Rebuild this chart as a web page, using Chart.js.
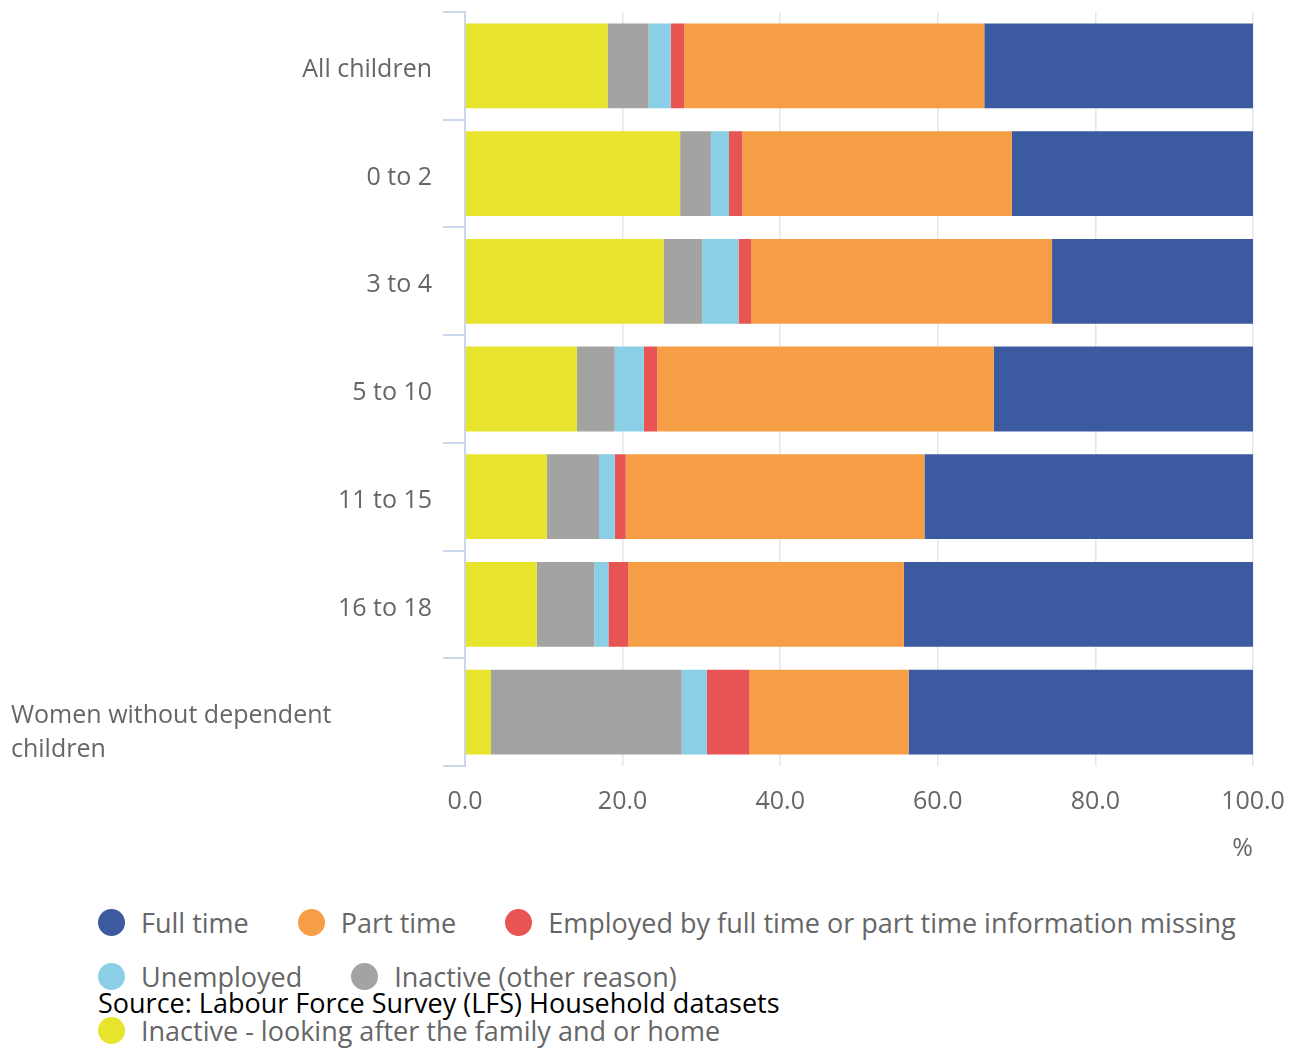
<!DOCTYPE html>
<html><head><meta charset="utf-8">
<script src="https://cdn.jsdelivr.net/npm/chart.js@4/dist/chart.umd.min.js"></script>
<style>
html,body{margin:0;padding:0;background:#fff;width:1294px;height:1048px;overflow:hidden;font-family:"Open Sans",sans-serif;}
#wrap{position:absolute;left:0;top:0;width:1294px;height:880px;}
#legend{position:absolute;left:98px;top:895px;width:1160px;display:flex;flex-wrap:wrap;column-gap:49px;}
.item{display:flex;align-items:center;height:54px;font-size:27px;color:#666;white-space:nowrap;}
.dot{width:27px;height:27px;border-radius:50%;margin-right:16px;flex:none;}
#source{position:absolute;left:98px;top:986px;font-size:27px;color:#000;line-height:34px;white-space:nowrap;}
</style></head>
<body>
<div id="wrap"><canvas id="c" width="1294" height="880"></canvas></div>
<div id="legend"></div>
<div id="source">Source: Labour Force Survey (LFS) Household datasets</div>
<script>
// Categories (top to bottom)
const categories = ['All children', '0 to 2', '3 to 4', '5 to 10', '11 to 15', '16 to 18', ['Women without dependent', 'children']];

// Series values (%), stacked left to right
const inactiveFamily = [18.1, 27.3, 25.2, 14.2, 10.4, 9.1, 3.3];
const inactiveOther  = [5.2, 3.9, 4.9, 4.8, 6.6, 7.3, 24.2];
const unemployed     = [2.8, 2.3, 4.6, 3.7, 2.0, 1.8, 3.2];
const employedMissing= [1.7, 1.7, 1.6, 1.7, 1.4, 2.5, 5.4];
const partTime       = [38.1, 34.2, 38.2, 42.7, 37.9, 35.0, 20.2];
const fullTime       = [34.1, 30.6, 25.5, 32.9, 41.7, 44.3, 43.7];

const seriesNames = ['Inactive - looking after the family and or home', 'Inactive (other reason)', 'Unemployed', 'Employed by full time or part time information missing', 'Part time', 'Full time'];
const seriesColors = ['#e8e32c', '#a3a3a1', '#8acfe5', '#e85454', '#f59e45', '#3c5aa0'];
const seriesValues = [inactiveFamily, inactiveOther, unemployed, employedMissing, partTime, fullTime];

const xTicks = [0, 20, 40, 60, 80, 100];
const xTitle = '%';

const yLabelPlugin = {
  id: 'yLabels',
  afterDraw(chart) {
    const ctx = chart.ctx, ys = chart.scales.y;
    ctx.save();
    ctx.font = '25px "Open Sans"';
    ctx.fillStyle = '#666666';
    ctx.textBaseline = 'middle';
    categories.forEach((lab, i) => {
      const py = ys.getPixelForValue(i);
      if (Array.isArray(lab)) {
        ctx.textAlign = 'left';
        const lh = 34;
        lab.forEach((ln, k) => {
          ctx.fillText(ln, 11, py + 4 + k * lh);
        });
      } else {
        ctx.textAlign = 'right';
        ctx.fillText(lab, ys.left - 11, py + 4);
      }
    });
    ctx.restore();
  }
};

const chart = new Chart(document.getElementById('c'), {
  type: 'bar',
  data: {
    labels: categories,
    datasets: seriesValues.map((v, i) => ({
      label: seriesNames[i],
      data: v,
      backgroundColor: seriesColors[i],
      borderWidth: 0,
      categoryPercentage: 1,
      barPercentage: 0.787
    }))
  },
  options: {
    indexAxis: 'y',
    responsive: false,
    animation: false,
    devicePixelRatio: 1,
    layout: { padding: { left: 443, right: 41, top: 12, bottom: 16 } },
    plugins: { legend: { display: false }, tooltip: { enabled: false } },
    scales: {
      x: {
        stacked: true,
        min: 0, max: 100,
        afterBuildTicks: (s) => { s.ticks = xTicks.map(v => ({ value: v })); },
        afterFit: (s) => { s.paddingRight = 0; s.paddingLeft = 0; },
        ticks: { callback: (v) => Number(v).toFixed(1), font: { family: 'Open Sans', size: 25 }, color: '#666666', padding: 21, maxRotation: 0 },
        grid: { color: '#e6e6e6', lineWidth: 1.5, drawTicks: false },
        border: { display: false },
        title: { display: true, text: xTitle, align: 'end', font: { family: 'Open Sans', size: 25 }, color: '#666666', padding: { top: -4, bottom: 0 } }
      },
      y: {
        stacked: true,
        ticks: { display: false },
        grid: { offset: true, drawOnChartArea: false, drawTicks: true, tickLength: 22, color: '#ccd6eb', lineWidth: 2 },
        border: { display: true, color: '#ccd6eb', width: 2 }
      }
    }
  },
  plugins: [yLabelPlugin]
});

// HTML legend (reversed order, as in the reference)
const legendEl = document.getElementById('legend');
chart.data.datasets.slice().reverse().forEach(ds => {
  const it = document.createElement('div');
  it.className = 'item';
  const d = document.createElement('span');
  d.className = 'dot';
  d.style.background = ds.backgroundColor;
  const t = document.createElement('span');
  t.textContent = ds.label;
  it.appendChild(d); it.appendChild(t);
  legendEl.appendChild(it);
});
</script>
</body></html>
